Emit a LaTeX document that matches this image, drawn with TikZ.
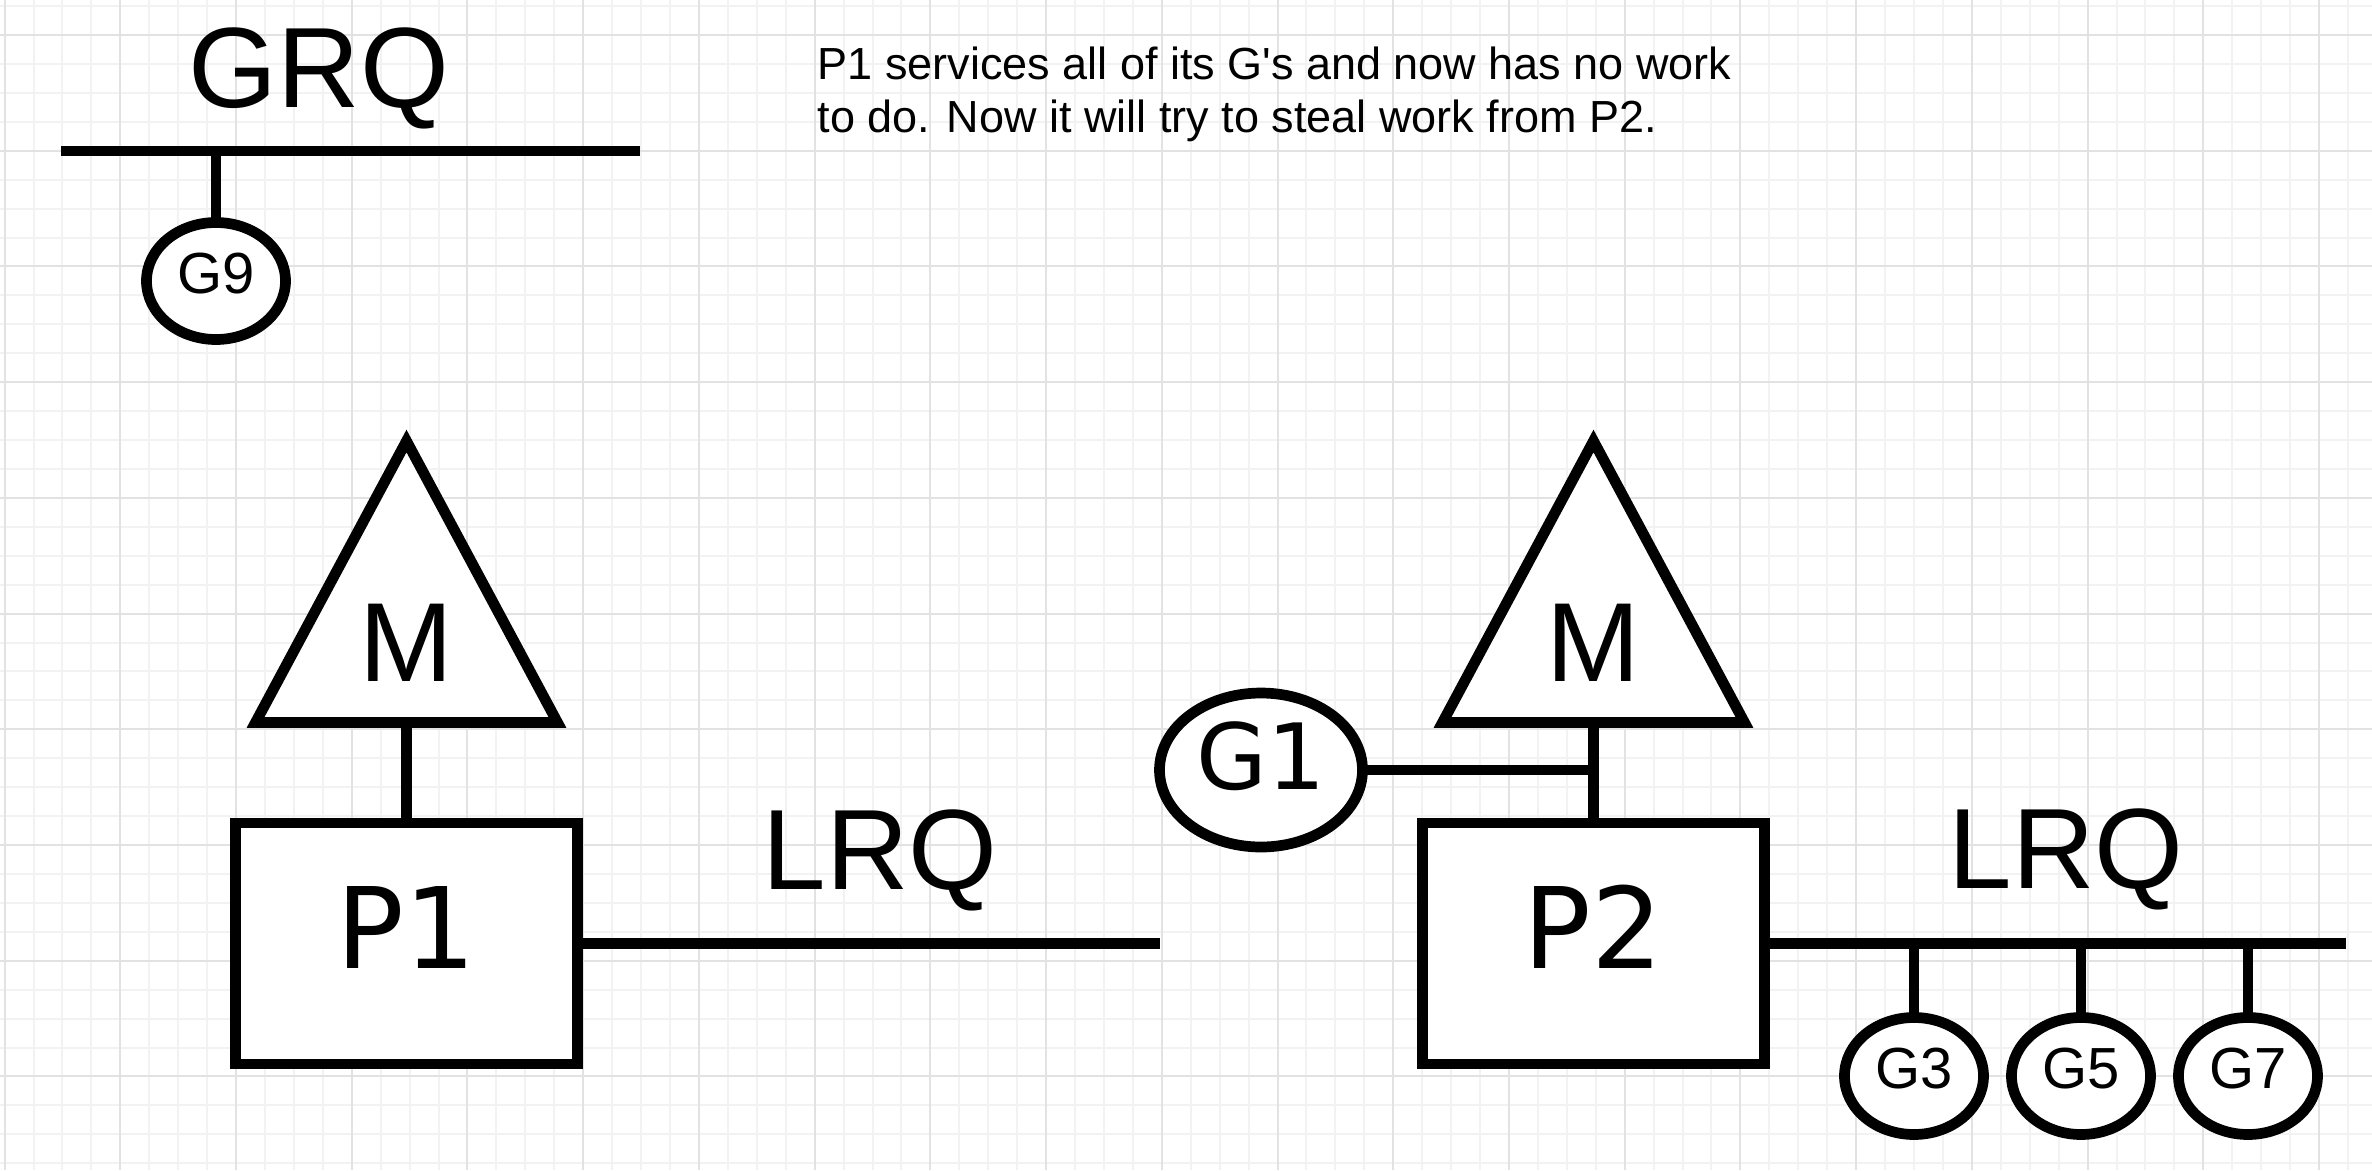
\documentclass[tikz,border=0pt]{standalone}
\usepackage{fontspec}
\setmainfont{Liberation Sans}
\newfontfamily\dejavu{DejaVu Sans}
\usetikzlibrary{shapes.geometric, positioning, calc}
\definecolor{gridminor}{RGB}{242,242,242}
\definecolor{gridmajor}{RGB}{226,226,226}
\tikzset{
  wire/.style={line width=1.07mm, draw=black},
  pbox/.style={
    rectangle, draw=black, line width=1.07mm, fill=white,
    minimum width=34.2mm, minimum height=24.1mm,
    inner sep=0pt, outer sep=0pt,
    font=\dejavu\fontsize{32pt}{36pt}\selectfont,
    text height=8.2mm, text depth=3.3mm
  },
  gsmall/.style={
    ellipse, draw=black, line width=1.07mm, fill=white,
    minimum width=13.9mm, minimum height=11.7mm,
    inner sep=0pt, outer sep=0pt,
    font=\fontsize{16.5pt}{18pt}\selectfont,
    text height=4.15mm, text depth=1.6mm
  },
  gbig/.style={
    ellipse, draw=black, line width=1.07mm, fill=white,
    minimum width=20.3mm, minimum height=15.4mm,
    inner sep=0pt, outer sep=0pt,
    font=\dejavu\fontsize{26pt}{30pt}\selectfont,
    text height=6.6mm, text depth=2.8mm
  },
  mtri/.style={draw=black, line width=1.07mm, fill=white, line join=miter},
  mtxt/.style={
    font=\fontsize{32pt}{36pt}\selectfont, inner sep=0pt,
    text height=8mm, text depth=0pt
  },
  qtxt/.style={font=\fontsize{32.5pt}{36pt}\selectfont, inner sep=0pt, anchor=base},
  note/.style={
    font=\fontsize{12.8pt}{15.1pt}\selectfont, align=left,
    inner sep=0pt, anchor=north west
  }
}

\begin{document}
\begin{tikzpicture}[x=0.1mm, y=-0.1mm]

% ── Canvas & grid ───────────────────────────────────────────
\useasboundingbox (0,0) rectangle (2372,1170);
\fill[white] (0,0) rectangle (2372,1170);
\foreach \i in {0,...,81}
  \draw[gridminor, line width=0.2mm] ({4.6+28.93*\i},0) -- ++(0,1170);
\foreach \j in {0,...,40}
  \draw[gridminor, line width=0.2mm] (0,{6.07+28.93*\j}) -- ++(2372,0);
\foreach \i in {0,...,20}
  \draw[gridmajor, line width=0.2mm] ({4.6+115.72*\i},0) -- ++(0,1170);
\foreach \j in {0,...,9}
  \draw[gridmajor, line width=0.2mm] (0,{35+115.72*\j}) -- ++(2372,0);

% ── Global run queue ────────────────────────────────────────
\node[qtxt] (grq) at (319,107) {GRQ};
\coordinate (grqL) at (61,151);
\coordinate (grqR) at (640,151);
\draw[wire] (grqL) -- (grqR);

\node[gsmall] (g9) at (216,281) {G9};
\draw[wire] (g9.north |- grqL) -- (g9.north);

% ── Caption ─────────────────────────────────────────────────
\node[note] (caption) at (817,46) {%
  P1 services all of its G\textquotesingle s and now has no work\\
  to do. Now it will try to steal work from P2.};

% ── P1 with its M ───────────────────────────────────────────
\node[pbox] (p1) at (406.5,943.5) {P1};

\coordinate (m1base) at ($(p1.north)+(0,-100.5)$);
\draw[mtri] ($(m1base)+(-151,0)$) -- ($(m1base)+(0,-281.5)$)
  -- ($(m1base)+(151,0)$) -- cycle;
\node[mtxt] (m1) at ($(m1base)+(0,-81.5)$) {M};
\draw[wire] (m1base) -- (p1.north);

\coordinate (lrq1end) at (1160,943.5);
\draw[wire] (p1.east) -- (lrq1end);
\node[qtxt] (lrq1) at (880,889) {LRQ};

% ── P2 with its M ───────────────────────────────────────────
\node[pbox, right=84.5mm of p1] (p2) {P2};

\coordinate (m2base) at ($(p2.north)+(0,-100.5)$);
\draw[mtri] ($(m2base)+(-151,0)$) -- ($(m2base)+(0,-281.5)$)
  -- ($(m2base)+(151,0)$) -- cycle;
\node[mtxt] (m2) at ($(m2base)+(0,-81.5)$) {M};
\draw[wire] (m2base) -- (p2.north);

\node[gbig] (g1) at (1261,770) {G1};
\draw[wire] (g1.east) -- (g1.east -| m2base);

% ── Local run queue of P2 ───────────────────────────────────
\coordinate (lrq2end) at (2346,943.5);
\draw[wire] (p2.east) -- (lrq2end);
\node[qtxt] (lrq2) at (2066,888) {LRQ};

\node[gsmall] (g3) at (1914,1076) {G3};
\node[gsmall, right=2.8mm of g3] (g5) {G5};
\node[gsmall, right=2.8mm of g5] (g7) {G7};

\draw[wire] (g3.north |- p2.east) -- (g3.north);
\draw[wire] (g5.north |- p2.east) -- (g5.north);
\draw[wire] (g7.north |- p2.east) -- (g7.north);

\end{tikzpicture}
\end{document}
